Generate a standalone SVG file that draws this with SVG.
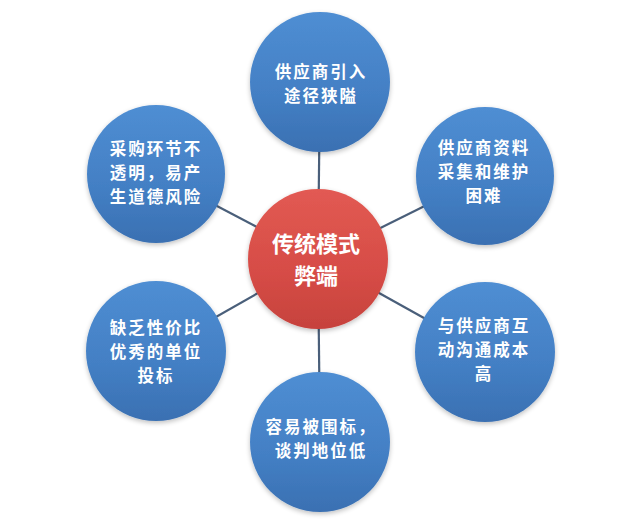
<svg xmlns="http://www.w3.org/2000/svg" width="640" height="526" viewBox="0 0 640 526">
<defs>
<linearGradient id="blue" x1="0" y1="0" x2="0" y2="1">
<stop offset="0" stop-color="#4f8ed3"/>
<stop offset="0.6" stop-color="#437fc4"/>
<stop offset="1" stop-color="#3a70b2"/>
</linearGradient>
<linearGradient id="red" x1="0" y1="0" x2="0" y2="1">
<stop offset="0" stop-color="#e25a53"/>
<stop offset="0.6" stop-color="#d64c46"/>
<stop offset="1" stop-color="#c6423d"/>
</linearGradient>
<filter id="sh" x="-20%" y="-20%" width="140%" height="140%">
<feGaussianBlur in="SourceAlpha" stdDeviation="2.5"/>
<feOffset dx="0" dy="2" result="b"/>
<feComponentTransfer><feFuncA type="linear" slope="0.25"/></feComponentTransfer>
<feMerge><feMergeNode/><feMergeNode in="SourceGraphic"/></feMerge>
</filter>
</defs>
<style>
.conn line{stroke:#4a5f7a;stroke-width:2.2}
.outer{fill:url(#blue);filter:url(#sh)}
.core{fill:url(#red);filter:url(#sh)}
text{font-family:"Noto Sans CJK SC","Noto Sans",sans-serif;font-weight:bold;fill:#ffffff;text-anchor:middle}
.t{font-size:16.5px;letter-spacing:2px}
.c{font-size:22px}
</style>
<rect width="640" height="526" fill="#ffffff"/>
<g id="connectors" class="conn">
<line x1="318" y1="259" x2="320" y2="82"/>
<line x1="318" y1="259" x2="485" y2="176"/>
<line x1="318" y1="259" x2="485" y2="352"/>
<line x1="318" y1="259" x2="320" y2="442"/>
<line x1="318" y1="259" x2="156" y2="351"/>
<line x1="318" y1="259" x2="156" y2="174"/>
</g>
<g id="n-top">
<circle class="outer" cx="320" cy="82" r="70"/>
<text class="t" x="321" y="78">供应商引入</text>
<text class="t" x="321" y="102">途径狭隘</text>
</g>
<g id="n-upper-right">
<circle class="outer" cx="485" cy="176" r="69"/>
<text class="t" x="484" y="154">供应商资料</text>
<text class="t" x="484" y="178">采集和维护</text>
<text class="t" x="484" y="202">困难</text>
</g>
<g id="n-lower-right">
<circle class="outer" cx="485" cy="352" r="70"/>
<text class="t" x="484" y="332">与供应商互</text>
<text class="t" x="484" y="356">动沟通成本</text>
<text class="t" x="484" y="380">高</text>
</g>
<g id="n-bottom">
<circle class="outer" cx="320" cy="442" r="70"/>
<text class="t" x="321" y="433">容易被围标，</text>
<text class="t" x="321" y="457">谈判地位低</text>
</g>
<g id="n-lower-left">
<circle class="outer" cx="156" cy="351" r="70"/>
<text class="t" x="156" y="334">缺乏性价比</text>
<text class="t" x="156" y="358">优秀的单位</text>
<text class="t" x="156" y="382">投标</text>
</g>
<g id="n-upper-left">
<circle class="outer" cx="156" cy="174" r="69"/>
<text class="t" x="156" y="155">采购环节不</text>
<text class="t" x="156" y="179">透明，易产</text>
<text class="t" x="156" y="203">生道德风险</text>
</g>
<g id="n-center">
<circle class="core" cx="318" cy="259" r="70"/>
<text class="c" x="316" y="252">传统模式</text>
<text class="c" x="316" y="284">弊端</text>
</g>
</svg>
